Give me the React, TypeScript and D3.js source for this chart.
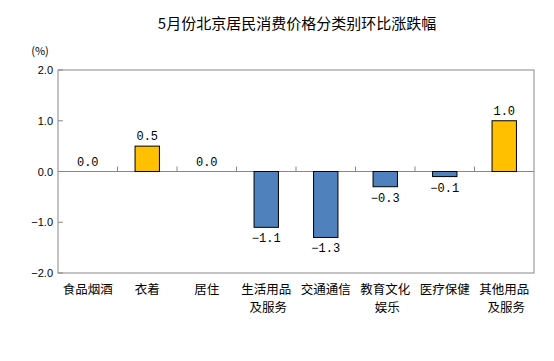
import React from "react";
import * as d3 from "d3";

const categories = ["食品烟酒", "衣着", "居住", "生活用品\n及服务", "交通通信", "教育文化\n娱乐", "医疗保健", "其他用品\n及服务"];
const values = [0.0, 0.5, 0.0, -1.1, -1.3, -0.3, -0.1, 1.0];
const yTicks = [2, 1, 0, -1, -2];
const title = "5月份北京居民消费价格分类别环比涨跌幅";

const W = 554;
const H = 361;
const left = 58;
const right = 534;
const top = 70;
const bottom = 273;

const App = () => {
    const x = d3.scaleBand<string>().domain(categories).range([left, right]).paddingInner(0).paddingOuter(0);
    const y = d3.scaleLinear().domain([-2, 2]).range([bottom, top]);
    const bw = x.bandwidth() * 0.41;
    const fmt = d3.format(".1f");
    const cjk = "'Noto Sans CJK SC', sans-serif";
    const mono = "'Liberation Mono', monospace";

    return (
        <svg width={W} height={H} style={{ position: "absolute", left: 0, top: 0 }}>
            <rect width={W} height={H} fill="#fff" />
            <text x={297} y={29} textAnchor="middle" fontSize={15} fontFamily={cjk} fill="#000">{title}</text>
            <text x={40} y={55} textAnchor="middle" fontSize={11} fontFamily={cjk} fill="#000">(%)</text>

            <rect x={left} y={top} width={right - left} height={bottom - top} fill="none" stroke="#888" strokeWidth={1} />
            {yTicks.map(t => (
                <g key={t}>
                    <line x1={left} x2={left + 5} y1={y(t)} y2={y(t)} stroke="#888" />
                    <text x={left - 5} y={y(t) + 4} textAnchor="end" fontSize={11} fontFamily="Arial, 'Liberation Sans', sans-serif" fill="#000">{fmt(t)}</text>
                </g>
            ))}
            <line x1={left} x2={right} y1={y(0)} y2={y(0)} stroke="#888" />
            {categories.slice(1).map(c => (
                <line key={c} x1={x(c)!} x2={x(c)!} y1={y(0)} y2={y(0) - 5} stroke="#888" />
            ))}

            {categories.map((c, i) => {
                const v = values[i];
                const cx = x(c)! + x.bandwidth() / 2;
                const y0 = y(0);
                const y1 = y(v);
                const color = v >= 0 ? "#FFC000" : "#4F81BD";
                return (
                    <g key={c}>
                        {v !== 0 && (
                            <rect x={cx - bw / 2} y={Math.min(y0, y1)} width={bw} height={Math.abs(y1 - y0)} fill={color} stroke="#000" strokeWidth={1} />
                        )}
                        <text x={cx} y={v >= 0 ? y1 - 6 : y1 + 15} textAnchor="middle" fontSize={12} fontFamily={mono} fill="#000">{fmt(v)}</text>
                    </g>
                );
            })}

            {categories.map(c => {
                const cx = x(c)! + x.bandwidth() / 2;
                return c.split("\n").map((line, j) => (
                    <text key={c + j} x={cx + (j > 0 ? 2 : 0)} y={294 + j * 18} textAnchor="middle" fontSize={12.5} fontFamily={cjk} fill="#000">{line}</text>
                ));
            })}
        </svg>
    );
};

export default App;
